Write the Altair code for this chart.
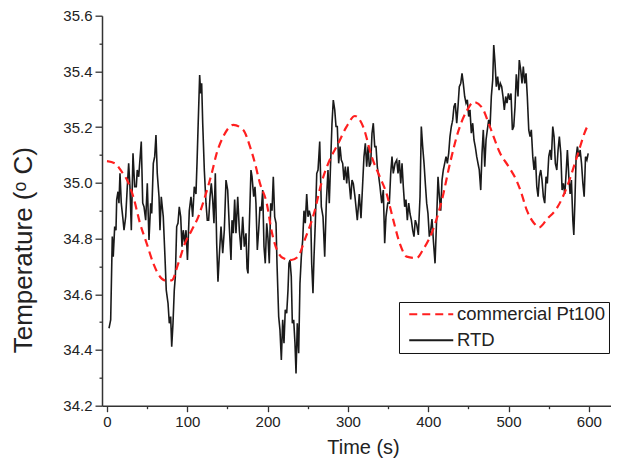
import altair as alt
import pandas as pd

# commercial Pt100 (smooth reference sensor)
comm_t = [0, 10, 18.3, 25, 32.8, 41.1, 49.4, 57.7, 66.0, 72.2, 80.6, 88.8, 97.1, 105.5, 113.7,
          122.0, 130.4, 136.6, 144.8, 157.3, 169.7, 178.1, 184.3, 190.5, 198.9, 205.1, 219.2,
          229.5, 237.9, 246.2, 258.7, 266.9, 277.3, 287.7, 298.0, 308.8, 319.2, 329.6, 340.0,
          348.3, 356.2, 364.9, 373.2, 385.7, 393.5, 404.4, 417.2, 427.1, 438.0, 448.3, 456.7,
          467.0, 477.0, 489.4, 500.2, 510.6, 515.2, 523.0, 531.8, 538.0, 548.0, 560.4, 572.9,
          585.3, 597.8, 600]
comm_v = [35.078, 35.07, 35.04, 35.01, 34.95, 34.855, 34.783, 34.711, 34.663, 34.65, 34.65,
          34.711, 34.783, 34.83, 34.878, 34.95, 35.034, 35.106, 35.166, 35.208, 35.19, 35.13,
          35.07, 34.998, 34.927, 34.825, 34.73, 34.723, 34.735, 34.795, 34.90, 34.998, 35.082,
          35.14, 35.20, 35.24, 35.20, 35.094, 35.02, 34.96, 34.87, 34.78, 34.735, 34.73, 34.76,
          34.82, 34.94, 35.07, 35.19, 35.26, 35.29, 35.27, 35.20, 35.107, 35.058, 35.004, 34.97,
          34.90, 34.855, 34.84, 34.87, 34.91, 34.986, 35.094, 35.20, 35.21]

# RTD (noisy sensor)
rtd_t = [2.5, 4.6, 6.6, 7.8, 9.6, 11.2, 12.1, 13.7, 14.9, 16.2, 17.8, 19.6, 21.2, 23.3, 25.3,
         27.0, 28.6, 30.3, 32.4, 34.5, 36.5, 37.7, 39.5, 40.7, 42.7, 44.5, 46.1, 48.2, 50.2,
         52.3, 54.4, 55.7, 57.7, 59.4, 61.0, 62.6, 64.8, 66.0, 67.6, 70.1, 72.2, 73.8, 76.0,
         77.6, 79.3, 80.6, 82.2, 83.8, 85.1, 86.8, 88.4, 90.0, 91.8, 93.4, 95.0, 96.8, 98.4,
         100.2, 102.5, 104.6, 106.7, 108.7, 110.8, 112.1, 113.7, 115.4, 116.7, 117.9, 119.2,
         121.2, 123.3, 124.9, 126.6, 128.3, 129.9, 131.6, 133.2, 134.9, 136.6, 138.2, 139.8,
         142.0, 144.1, 146.1, 148.2, 150.3, 152.3, 154.4, 155.7, 157.3, 159.0, 160.6, 162.8,
         164.8, 166.9, 169.0, 171.0, 173.1, 174.4, 175.6, 177.2, 179.3, 180.6, 182.7, 184.3,
         185.5, 187.2, 188.9, 190.5, 192.2, 193.9, 195.5, 197.1, 198.9, 200.5, 202.1, 203.9,
         205.5, 207.1, 208.8, 210.5, 211.7, 213.8, 215.4, 217.1, 218.8, 220.4, 222.0, 223.8,
         225.4, 226.6, 227.9, 229.5, 230.8, 232.5, 234.1, 235.4, 237.0, 238.7, 240.3, 242.0,
         243.7, 245.3, 246.9, 248.7, 250.3, 251.9, 253.7, 254.9, 256.5, 257.8, 259.4, 261.2,
         262.8, 264.9, 266.9, 269.0, 271.1, 273.1, 275.2, 276.8, 278.6, 280.2, 281.8, 283.6,
         285.2, 286.8, 288.5, 290.2, 291.8, 293.5, 295.1, 296.8, 298.5, 300.1, 301.7, 303.5,
         305.1, 306.7, 308.8, 311.7, 314.2, 316.3, 318.4, 320.0, 321.7, 323.4, 325.1, 326.7,
         328.4, 330.0, 331.6, 333.4, 335.0, 336.6, 338.4, 340.0, 342.1, 344.1, 345.8, 347.4,
         349.6, 351.6, 353.3, 354.9, 356.5, 358.7, 360.8, 362.4, 364.0, 365.8, 367.4, 369.0,
         370.7, 372.3, 374.0, 375.7, 377.3, 379.0, 380.7, 382.3, 383.9, 385.7, 387.7, 389.8,
         391.4, 393.1, 394.8, 396.4, 398.1, 399.7, 401.4, 403.1, 404.7, 406.5, 408.5, 410.6,
         412.2, 413.9, 415.6, 417.2, 418.8, 420.5, 422.2, 423.8, 425.5, 427.1, 428.8, 430.5,
         432.1, 433.7, 435.5, 437.1, 438.7, 440.5, 442.1, 443.7, 445.4, 447.1, 448.7, 450.4,
         452.0, 453.7, 455.4, 457.0, 458.6, 460.4, 462.0, 463.6, 465.4, 467.0, 468.6, 470.4,
         472.0, 473.6, 475.3, 477.0, 478.6, 480.3, 481.6, 483.2, 484.8, 486.5, 488.2, 489.8,
         491.5, 493.1, 494.8, 496.5, 498.1, 499.8, 501.5, 503.1, 504.8, 506.5, 508.1, 509.7,
         511.8, 513.4, 515.2, 516.8, 518.4, 520.2, 521.8, 523.4, 525.2, 526.8, 528.4, 530.2,
         531.8, 533.5, 535.2, 536.8, 538.4, 540.1, 541.7, 543.4, 545.1, 546.7, 548.3, 550.1,
         551.7, 553.3, 555.1, 556.7, 558.3, 560.1, 561.7, 563.3, 565.1, 566.7, 568.3, 570.1,
         571.7, 573.3, 575.1, 576.7, 578.3, 580.1, 581.3, 582.6, 584.2, 585.8, 587.6, 589.2,
         590.9, 592.6, 594.2, 595.9, 597.6, 599.2]
rtd_v = [34.478, 34.508, 34.807, 34.735, 34.843, 34.83, 34.94, 34.968, 34.927, 35.034, 34.927,
         34.878, 34.83, 34.878, 34.986, 35.07, 34.986, 34.83, 35.106, 34.986, 34.986, 35.046,
         35.022, 35.07, 35.148, 34.927, 34.914, 34.866, 34.998, 34.795, 34.927, 34.89, 35.07,
         35.094, 35.172, 35.034, 34.95, 34.83, 34.95, 34.878, 34.735, 34.615, 34.568, 34.496,
         34.52, 34.412, 34.496, 34.615, 34.663, 34.843, 34.855, 34.914, 34.878, 34.771, 34.83,
         34.783, 34.83, 34.723, 34.90, 34.95, 34.878, 34.986, 34.96, 35.07, 35.226, 35.387,
         35.321, 35.357, 35.214, 35.046, 34.927, 34.866, 34.866, 34.95, 34.998, 34.94, 34.855,
         35.034, 34.783, 34.645, 34.735, 34.843, 34.747, 34.83, 35.01, 34.974, 34.843, 34.723,
         34.866, 34.819, 34.94, 34.819, 34.95, 34.83, 34.759, 34.878, 34.771, 34.819, 34.693,
         34.675, 34.843, 35.046, 35.022, 34.95, 34.986, 34.927, 34.759, 34.83, 34.914, 34.90,
         34.974, 34.771, 34.711, 34.855, 34.80, 34.711, 34.927, 34.90, 35.022, 34.878, 34.855,
         34.711, 34.52, 34.472, 34.364, 34.508, 34.424, 34.544, 34.532, 34.615, 34.711, 34.723,
         34.663, 34.496, 34.508, 34.424, 34.316, 34.496, 34.388, 34.639, 34.735, 34.795, 34.90,
         34.855, 34.96, 34.878, 34.90, 34.878, 34.711, 34.604, 34.735, 34.855, 35.034, 35.046,
         35.148, 34.914, 34.878, 34.735, 34.927, 35.046, 34.927, 35.082, 35.214, 35.297, 35.262,
         35.202, 35.202, 35.07, 35.13, 35.082, 35.07, 35.01, 35.058, 34.998, 35.058, 34.998,
         34.94, 35.01, 34.998, 34.95, 34.866, 34.96, 34.873, 34.998, 35.094, 35.142, 35.058,
         35.13, 35.058, 35.07, 35.178, 35.214, 35.13, 35.13, 35.058, 35.022, 34.986, 34.927,
         34.974, 34.783, 34.878, 34.927, 34.927, 35.034, 35.094, 35.034, 35.07, 35.082, 35.034,
         35.082, 34.998, 35.07, 34.986, 34.914, 34.94, 34.866, 34.927, 34.89, 34.866, 34.83,
         34.807, 34.866, 34.85, 34.813, 34.95, 35.202, 35.13, 35.07, 34.998, 34.927, 34.89,
         34.807, 34.83, 34.87, 34.79, 34.711, 34.878, 35.022, 34.95, 34.90, 35.01, 35.046,
         35.07, 35.094, 35.07, 35.106, 35.166, 35.202, 35.226, 35.274, 35.286, 35.214, 35.274,
         35.345, 35.357, 35.393, 35.357, 35.31, 35.286, 35.298, 35.238, 35.262, 35.178, 35.214,
         35.154, 35.13, 35.094, 35.07, 35.046, 34.974, 35.106, 35.19, 35.058, 35.154, 35.19,
         35.226, 35.202, 35.31, 35.369, 35.495, 35.43, 35.345, 35.381, 35.333, 35.357, 35.345,
         35.31, 35.262, 35.31, 35.286, 35.321, 35.298, 35.321, 35.19, 35.202, 35.274, 35.39,
         35.31, 35.441, 35.405, 35.357, 35.417, 35.357, 35.393, 35.31, 35.19, 35.166, 35.19,
         35.094, 35.046, 35.094, 34.986, 34.95, 35.022, 35.046, 35.01, 34.95, 34.927, 35.022,
         34.998, 35.094, 35.118, 35.082, 35.202, 35.166, 35.07, 35.046, 35.118, 35.166, 35.106,
         34.974, 34.998, 34.96, 35.034, 35.118, 35.022, 34.96, 35.01, 34.866, 34.813, 34.927,
         35.094, 35.13, 35.094, 35.118, 35.07, 34.998, 34.95, 35.094, 35.082, 35.106]

series_names = ["commercial Pt100", "RTD"]
x_major = [0, 100, 200, 300, 400, 500, 600]
x_minor = [50, 150, 250, 350, 450, 550]
y_major = [34.2, 34.4, 34.6, 34.8, 35.0, 35.2, 35.4, 35.6]
y_minor = [34.3, 34.5, 34.7, 34.9, 35.1, 35.3, 35.5]

df_comm = pd.DataFrame({"t": comm_t, "v": comm_v, "s": series_names[0]})
df_rtd = pd.DataFrame({"t": rtd_t, "v": rtd_v, "s": series_names[1]})

FONT = "Liberation Sans"
TXT = "#222222"
AX = "#333333"

xs = alt.Scale(domain=[-6.2, 627.6], nice=False, zero=False)
ys = alt.Scale(domain=[34.2, 35.6], nice=False, zero=False)

color = alt.Color("s:N", scale=alt.Scale(domain=series_names, range=["#ff1f1f", "#1a1a1a"]),
                  title=None,
                  legend=alt.Legend(orient="none", legendX=297, legendY=286.3,
                                    strokeColor="#111111", padding=3,
                                    symbolType="M-4,0H4", symbolSize=121,
                                    symbolStrokeWidth=2, symbolOffset=20,
                                    labelFont=FONT, labelFontSize=18.5, labelColor=TXT,
                                    labelOffset=16.5, rowPadding=7, labelLimit=300))
dash = alt.StrokeDash("s:N", scale=alt.Scale(domain=series_names, range=[[8, 5], [1, 0]]),
                      title=None, legend=None)

rtd = alt.Chart(df_rtd).mark_line(strokeWidth=1.6).encode(
    x=alt.X("t:Q", scale=xs,
            axis=alt.Axis(values=x_major, title="Time (s)", orient="bottom", tickSize=6,
                          labelFontSize=15, titleFontSize=20, titlePadding=8, titleX=261,
                          labelPadding=3, tickWidth=1.3, domainWidth=1.5)),
    y=alt.Y("v:Q", scale=ys,
            axis=alt.Axis(values=y_major, format=".1f", title="Temperature (ᵒ C)",
                          orient="left", tickSize=7, labelFontSize=15, titleFontSize=26,
                          titlePadding=26, titleY=234, labelPadding=3, tickWidth=1.3,
                          domainWidth=1.5)),
    color=color,
    strokeDash=dash,
)

comm = alt.Chart(df_comm).mark_line(strokeWidth=2.2, interpolate="monotone").encode(
    x=alt.X("t:Q", scale=xs,
            axis=alt.Axis(values=x_minor, labels=False, title=None, orient="bottom",
                          tickSize=3, tickWidth=1.3, domain=False)),
    y=alt.Y("v:Q", scale=ys,
            axis=alt.Axis(values=y_minor, labels=False, title=None, orient="left",
                          tickSize=3, tickWidth=1.3, domain=False)),
    color=color,
    strokeDash=dash,
)

chart = alt.layer(rtd, comm).resolve_axis(x="independent", y="independent").properties(
    width=509, height=390,
    autosize=alt.AutoSizeParams(type="none"),
    padding={"left": 94, "top": 7.7, "right": 0, "bottom": 54},
).configure_view(stroke=None).configure_axis(
    grid=False, domainColor=AX, tickColor=AX, labelColor=TXT, titleColor=TXT,
    labelFont=FONT, titleFont=FONT, titleFontWeight="normal",
).configure_legend(labelFont=FONT)

chart.save("out.html", embed_options={"renderer": "svg", "actions": False})
